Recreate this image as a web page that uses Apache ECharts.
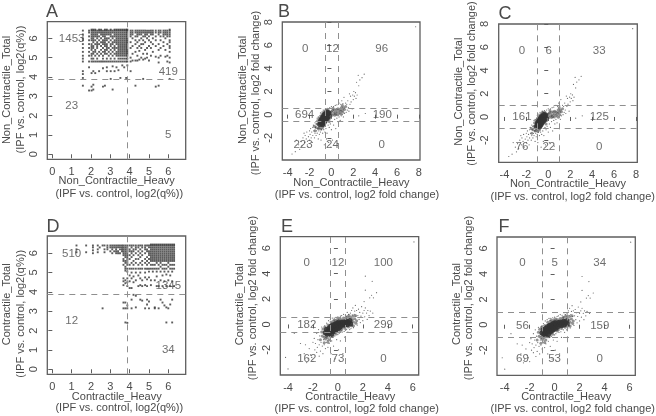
<!DOCTYPE html>
<html><head><meta charset="utf-8">
<style>html,body{margin:0;padding:0;background:#fff}#c{width:656px;height:416px}</style>
<script src="https://cdn.jsdelivr.net/npm/echarts@6/dist/echarts.min.js"></script></head>
<body><div id="c"></div>
<script>
// ---------- data ----------
const ticks_q = [0,1,2,3,4,5,6];
const ticks_B = [-4,-2,0,2,4,6,8];
const ticks_By = [-2,0,2,4,6,8];
const ticks_E = [-4,-2,0,2,4,6];
const ticks_Ey = [-2,0,2,4,6];

// q% panels: [x, [y, y, ...]] columns of points
const A_columns = [
[1.58,[3.55,3.95,4.15,4.3,4.8,4.95,5.1,5.3,5.5,5.7,5.9,6,6.2,6.4]],
[1.9,[3.3,4.5,4.8,5.1,5.3,5.5,5.7,5.9,6.1,6.3,6.4]],
[2.03,[3.3,3.5,4.2,4.8,4.95,5.1,5.2,5.4,5.5,5.6,5.7,5.9,6,6.1,6.2,6.3,6.4,6.45]],
[2.12,[3.35,3.6,4.3,4.8,4.95,5.2,5.3,5.5,5.6,5.8,5.9,6,6.1,6.2,6.3,6.4,6.45]],
[2.22,[4.2,4.8,5.1,5.3,5.4,5.7,5.9,6.1,6.2,6.3,6.4,6.45]],
[2.32,[4.8,4.95,5.2,5.5,5.6,5.7,5.8,6,6.1,6.2,6.3,6.4]],
[2.42,[4.3,4.8,5.1,5.3,5.7,5.9,6.1,6.3,6.4,6.45]],
[2.52,[4.8,5.2,5.4,5.6,5.8,6,6.2,6.3,6.4,6.45]],
[2.62,[3.5,4.45,4.8,4.95,5.1,5.3,5.5,5.7,5.8,5.9,6.1,6.2,6.3,6.4]],
[2.72,[3.55,4.8,5.2,5.3,5.4,5.6,5.7,5.8,5.9,6,6.1,6.2,6.3,6.4,6.45]],
[2.82,[4.3,4.5,4.8,4.95,5.2,5.4,5.5,5.6,5.7,5.9,6,6.2,6.3,6.4,6.45]],
[2.92,[4.8,5.1,5.3,5.5,5.8,6,6.2,6.3,6.4]],
[3.02,[3.9,4.3,4.8,4.95,5.2,5.4,5.6,5.7,5.9,6.1,6.2,6.3,6.4,6.45]],
[3.12,[3.35,4.55,4.8,5.1,5.3,5.5,5.7,5.8,6,6.1,6.3,6.4]],
[3.22,[4.3,4.8,4.95,5.2,5.4,5.5,5.6,5.8,5.9,6.1,6.2,6.3,6.4,6.45]],
[3.32,[4.5,4.8,5.1,5.2,5.3,5.5,5.7,5.8,5.9,6,6.1,6.2,6.3,6.4,6.45]],
[3.42,[4.35,4.8,4.95,5.1,5.2,5.3,5.4,5.5,5.6,5.7,5.8,5.9,6,6.1,6.2,6.3,6.4,6.45]],
[3.52,[3.95,4.8,4.95,5.1,5.2,5.3,5.4,5.5,5.6,5.7,5.8,5.9,6,6.1,6.2,6.3,6.4,6.45]],
[3.62,[4.6,4.8,4.95,5.1,5.2,5.3,5.4,5.5,5.6,5.7,5.8,5.9,6,6.1,6.2,6.3,6.4,6.45]],
[3.72,[4.5,4.8,4.95,5.1,5.2,5.3,5.4,5.5,5.6,5.7,5.8,5.9,6,6.1,6.2,6.3,6.4,6.45]],
[3.82,[3.95,4.8,4.95,5.1,5.2,5.3,5.4,5.5,5.6,5.7,5.8,5.9,6,6.1,6.2,6.3,6.4,6.45]],
[3.88,[4.6,4.8,4.95,5.1,5.2,5.3,5.4,5.5,5.6,5.7,5.8,5.9,6,6.1,6.2,6.3,6.4,6.45]],
[4.05,[4.3,4.8,5,5.5,5.8,6.1,6.2,6.3,6.4]],
[4.15,[4.85,5.2,5.6,6,6.2,6.3,6.4]],
[4.3,[3.55,4.85,5.3,5.7,5.9,6.1,6.3,6.4]],
[4.4,[4.85,5.1,5.5,5.8,6.1,6.2,6.3,6.4]],
[4.5,[4.9,5.35,5.6,5.9,6.2,6.3,6.4]],
[4.6,[5,5.5,5.7,6,6.2,6.3,6.4]],
[4.7,[3.9,4.9,5.2,5.7,5.9,6.1,6.3,6.4]],
[4.8,[4.95,5.4,5.8,6.1,6.2,6.3,6.4]],
[4.9,[5,5.2,5.5,6,6.2,6.3,6.4]],
[5.0,[4.85,5.6,5.9,6.1,6.3,6.4]],
[5.1,[5.1,5.5,5.8,6.2,6.3,6.4]],
[5.2,[5.3,5.7,6,6.2,6.3,6.4]],
[5.35,[3.5,5.05,5.6,5.9,6.1,6.3,6.4]],
[5.5,[3.55,4.75,5,5.4,5.7,6.2,6.3,6.4]],
[5.6,[5.1,5.5,5.9,6.1,6.3,6.4]],
[5.75,[5.6,5.8,6.1,6.2,6.3,6.4]],
[5.85,[5.05,5.4,6,6.2,6.3,6.4]],
[5.95,[4.8,5.1,5.7,6.1,6.2,6.3,6.4]],
[6.07,[3.9,4.75,5.0,5.3,5.5,5.6,5.8,5.9,6.1,6.2,6.3,6.4,6.45]]
];
const D_columns = [
[1.25,[6.05,6.2,6.4]],[1.75,[6.05,6.4]],[2.1,[6.0,6.15,6.3,6.4]],[2.35,[6.05,6.2,6.4]],
[2.45,[6.3]],[2.6,[3.15,6.4]],[2.7,[6.05,6.2,6.4]],[2.85,[6.2,6.3,6.4]],
[3.0,[6.1,6.3,6.4]],[3.1,[6.0,6.2,6.3,6.4]],[3.2,[6.1,6.3,6.4]],[3.3,[6,6.1,6.2,6.3,6.4]],
[3.4,[6,6.1,6.3,6.4]],[3.5,[6,6.2,6.3,6.4]],[3.6,[6.1,6.2,6.3,6.4]],
[3.68,[3.15,3.45,4.35,4.55,4.7,5.4,5.6,5.7,5.9,6,6.1,6.2,6.3,6.4]],
[3.78,[2.42,3.15,3.45,4.45,4.6,5.1,5.2,5.3,5.5,5.6,5.8,5.9,6,6.1,6.2,6.3,6.4]],
[3.88,[2.4,3.15,3.3,4.3,4.5,4.7,5.05,5.2,5.4,5.5,5.6,5.7,5.8,5.9,6,6.1,6.2,6.3,6.4]],
[4.0,[4.2,4.55,4.85,5.2,5.4,5.7,5.9,6.1,6.2,6.4]],
[4.1,[3.15,3.6,4.2,4.7,5.0,5.2,5.5,5.8,6,6.1,6.3,6.4]],
[4.2,[3.85,4.5,4.8,5.2,5.4,5.6,5.9,6.1,6.2,6.4]],
[4.32,[3.8,3.2,4.6,5.0,5.2,5.5,5.7,6,6.2,6.3,6.4]],
[4.45,[4.3,4.85,5.2,5.4,5.7,5.9,6.1,6.3,6.4]],
[4.55,[3.6,4.35,4.7,5.0,5.2,5.5,5.8,6,6.2,6.4]],
[4.65,[3.55,4.3,4.6,5.2,5.4,5.6,5.9,6.1,6.3,6.4]],
[4.8,[3.15,4.35,4.75,5,5.2,5.5,5.7,6,6.2,6.3,6.4]],
[4.9,[3.35,3.6,4.3,4.65,5.2,5.4,5.6,5.8,6.1,6.2,6.4]],
[5.0,[3.15,3.5,4.75,5.05,5.2,5.5,5.7,5.9,6,6.1,6.3,6.4]],
[5.1,[4.35,4.6,5.2,5.4,5.6,5.7,5.8,5.9,6,6.1,6.2,6.3,6.4,6.45]],
[5.2,[5.05,5.2,5.4,5.6,5.7,5.8,5.9,6,6.1,6.2,6.3,6.4,6.45]],
[5.3,[3.15,3.2,4.6,5.2,5.4,5.6,5.7,5.8,5.9,6,6.1,6.2,6.3,6.4,6.45]],
[5.4,[4.3,4.8,5.05,5.2,5.5,5.6,5.7,5.8,5.9,6,6.1,6.2,6.3,6.4,6.45]],
[5.5,[3.15,4.3,5.2,5.4,5.6,5.7,5.8,5.9,6,6.1,6.2,6.3,6.4,6.45]],
[5.6,[3.6,4.6,5.05,5.3,5.5,5.6,5.7,5.8,5.9,6,6.1,6.2,6.3,6.4,6.45]],
[5.7,[3.45,4.3,4.85,5.2,5.4,5.6,5.7,5.8,5.9,6,6.1,6.2,6.3,6.4,6.45]],
[5.8,[3.3,4.55,5.05,5.2,5.4,5.6,5.7,5.8,5.9,6,6.1,6.2,6.3,6.4,6.45]],
[5.9,[2.42,3.2,4.3,4.9,5.2,5.4,5.6,5.7,5.8,5.9,6,6.1,6.2,6.3,6.4,6.45]],
[6.0,[3.15,4.6,5.05,5.3,5.5,5.6,5.7,5.8,5.9,6,6.1,6.2,6.3,6.4,6.45]],
[6.1,[3.35,4.3,4.85,5.2,5.4,5.6,5.7,5.8,5.9,6,6.1,6.2,6.3,6.4,6.45]],
[6.2,[2.42,3.6,4.55,5.05,5.2,5.4,5.6,5.7,5.8,5.9,6,6.1,6.2,6.3,6.4,6.45]],
[6.3,[4.3,5.2,5.4,5.6,5.7,5.8,5.9,6,6.1,6.2,6.3,6.4,6.45]]
];

// fold-change panels: B and C plot the same proteins, E and F too
const NC_core = [[-1.05,-.85],[-1,-.65],[-.95,-.5],[-.9,-.75],[-.85,-.35],[-.85,-.6],[-.8,-.85],[-.75,-.2],[-.75,-.45],[-.7,-.7],[-.65,-.05],[-.65,-.3],[-.6,-.55],[-.55,.05],[-.55,-.2],[-.5,-.4],[-.45,-.1],[-.4,-.3],[-.35,.05],[-.3,-.15],[-.25,.15],[-.4,.2]];
const NC_mid = [[-1.4,-1.1],[-1.3,-.8],[-1.25,-.5],[-1.2,-1.2],[-1.1,-1.15],[-1.1,-.3],[-.95,-1.25],[-.95,-.1],[-.8,-1.1],[-.8,.1],[-.65,.25],[-.5,.4],[-.3,.4],[-.15,-.3],[-.1,.1],[0,.25],[.05,-.05],[.1,.35],[.2,.1],[.25,.4],[.35,.2],[.4,.05],[.45,.45],[.55,.25],[.6,.5],[.7,.15],[.75,.4],[.85,.3],[.9,.6],[1,.4],[1.05,.2],[1.1,.6],[1.2,.45],[1.3,.7],[1,.8],[-.2,-.6],[-1.5,-1.4],[-1.55,-1],[.15,.55],[.3,-.05],[.55,0],[.85,.05]];
const NC_sparse = [[-3.6,-3.4],[-3.3,-3.2],[-3.2,-2.2],[-3,-2.6],[-2.9,-3],[-2.8,-2.3],[-2.7,-2.7],[-2.6,-2],[-2.5,-1.6],[-2.45,-2.4],[-2.4,-1.8],[-2.3,-2.1],[-2.25,-1.5],[-2.2,-2.6],[-2.1,-1.9],[-2,-1.4],[-2,-2.2],[-1.95,-1.7],[-1.9,-1.2],[-1.85,-2],[-1.8,-1.5],[-1.75,-2.4],[-1.7,-1.1],[-1.7,-1.8],[-1.65,-.9],[-1.6,-1.4],[-1.55,-2],[-1.5,-1.6],[-1.5,-.7],[-1.45,-1.1],[-1.4,-1.8],[-1.4,-.8],[-1.35,-1.4],[-1.3,-.3],[-1.3,-1.6],[-1.25,-1.2],[-1.2,-2.1],[-1.2,-.2],[-1.15,-1.4],[-1.1,-1.7],[-1.05,-.1],[-1,-1.5],[-1,.15],[-.95,-2.2],[-.9,-1.3],[-.85,.25],[-.8,-1.6],[-.75,.4],[-.7,-1.3],[-.65,-2.6],[-.6,-1.5],[-.55,.5],[-.5,-1.2],[-.45,-2.1],[-.4,-1.6],[-.35,.55],[-.3,-.9],[-.25,-2.4],[-.2,-1.1],[-.15,.6],[-.1,-.8],[-.05,-2.8],[0,-1.3],[0,.7],[.1,-.6],[.1,-2.2],[.2,-.9],[.2,.7],[.3,-.4],[.35,.8],[.4,-1.2],[.5,-.3],[.5,.85],[.55,-2.5],[.6,-.6],[.7,1],[.7,-.2],[.8,-.5],[.85,.9],[.9,-.1],[.95,1.2],[1,0],[1.05,.95],[1.1,-.2],[1.15,1.5],[1.2,.1],[1.3,1],[1.35,.2],[1.4,.9],[1.45,.4],[1.5,1.2],[1.55,.6],[1.6,.3],[1.65,1.8],[1.7,.9],[1.75,1.6],[1.8,1.1],[1.9,.5],[1.95,1.7],[2,1.3],[2.05,2],[2.1,1.6],[2.2,1.9],[2.25,1.4],[2.3,2.8],[2.35,1.7],[2.45,3.4],[2.6,3],[2.8,3.2],[2.5,2.5],[3,3.5],[3.1,.1],[2.5,-.1],[7.7,7.6]];

const C_core = [[-1,-.65],[-.9,-.4],[-.85,-.75],[-.8,-.55],[-.7,-.3],[-.7,-.7],[-.6,-.5],[-.55,-.15],[-.5,-.75],[-.45,-.35],[-.4,-.05],[-.35,-.55],[-.3,-.25],[-.25,0],[-.2,-.45],[-.15,-.15],[-.1,.1],[-.05,-.35],[0,-.05],[.05,.15],[.1,-.25],[.15,.05],[.25,-.15],[.3,.15],[.4,0],[.45,.2],[.55,-.05],[.6,.15],[.7,.25],[.75,0],[.85,.15],[.95,.3],[1,.05]];
const C_mid = [[-1.3,-.6],[-1.25,-.9],[-1.2,-.35],[-1.1,-1],[-1.05,-.2],[-1,-1.15],[-.95,-.95],[-.85,-1.05],[-.8,-.05],[-.7,-1.2],[-.6,-.95],[-.55,.2],[-.45,-.95],[-.35,.3],[-.25,.35],[-.15,-.75],[-.05,.4],[.1,.45],[.2,-.5],[.25,.4],[.3,-.4],[.45,.5],[.55,-.3],[.65,.55],[.75,.6],[.85,-.2],[1,.55],[1.1,-.1],[1.15,.4],[1.25,.2],[1.35,.45],[1.25,-.1],[1.45,.1],[.9,.7],[-1.4,-1.2],[-1.1,-1.45],[-.8,-1.4],[1.2,.65],[1.4,.7],[1.5,.3]];
const C_sparse = [[-4.2,-2.6],[-4,-3.5],[-3.5,-.7],[-3,-1.5],[-2.7,-2.3],[-2.6,-1.6],[-2.5,-3],[-2.4,-2.7],[-2.3,-1.9],[-2.2,-2.4],[-2.1,-2.6],[-2,-1.4],[-2,-2.9],[-1.9,-1.1],[-1.85,-2],[-1.8,-1.5],[-1.7,-2.2],[-1.7,-.7],[-1.65,-1.8],[-1.6,-1.2],[-1.55,-.4],[-1.5,-2.5],[-1.5,-1.6],[-1.45,-.9],[-1.4,-2.1],[-1.35,-1.4],[-1.3,-.2],[-1.25,-1.7],[-1.2,-2.3],[-1.15,-1.2],[-1.1,-1.6],[-1.05,-.1],[-1,-1.9],[-.95,-1.4],[-.9,.1],[-.85,-1.25],[-.8,-1.8],[-.75,.3],[-.7,-1.5],[-.65,-.95],[-.6,.4],[-.55,-2.3],[-.5,-1.3],[-.45,.5],[-.4,-1],[-.35,-1.7],[-.3,.5],[-.25,-.9],[-.2,-2.7],[-.15,.55],[-.1,-1.2],[0,-.8],[0,.6],[.05,-2],[.1,-.7],[.2,.65],[.2,-1.3],[.3,.7],[.35,-.6],[.4,-2.3],[.45,.8],[.5,-.55],[.55,-1],[.6,.75],[.7,-.4],[.75,.95],[.8,-.6],[.85,.8],[.95,-.4],[1,.9],[1.05,-.3],[1.1,1.1],[1.15,.75],[1.2,1.3],[1.25,-.25],[1.3,.8],[1.35,1.05],[1.4,1.5],[1.45,.65],[1.5,1.1],[1.55,-.05],[1.6,.7],[1.65,1.2],[1.7,.4],[1.75,.95],[1.8,.15],[1.85,.65],[1.9,1.4],[2,.9],[2,.3],[2.1,1.1],[2.15,.6],[2.2,1.3],[2.3,.9],[2.35,.4],[2.4,1.1],[2.5,.7],[2.55,2.1],[2.2,2.7],[2.1,1.8],[2.6,1.05],[2.8,.9],[2.85,2.1],[2.7,2.3],[3.1,2.5],[2.75,3.4],[2.2,3.8],[6.1,6.5]];

// one set of small named arrays per panel
const A_labels=['1453','419','23','5'],   A_labelPos=[[1,5.97],[6,4.27],[1,2.5],[6,1]];
const D_labels=['510','1345','12','34'],  D_labelPos=[[1,5.98],[6,4.3],[1,2.5],[6,1]];
const B_labels=['0','12','96','694','190','223','24','0'];
const B_labelPos=[[-2.4,5.65],[.1,5.65],[4.6,5.65],[-2.45,0],[4.65,0],[-2.6,-2.6],[.1,-2.6],[4.6,-2.6]];
const C_labels=['0','6','33','161','125','76','22','0'];
const C_labelPos=[[-2.4,5.67],[.05,5.67],[4.65,5.67],[-2.4,0],[4.65,0],[-2.4,-2.6],[.05,-2.6],[4.65,-2.6]];
const E_labels=['0','12','100','182','299','162','73','0'];
const E_labelPos=[[-2.5,4.86],[0,4.86],[3.65,4.86],[-2.5,-.05],[3.65,-.05],[-2.5,-2.7],[0,-2.7],[3.65,-2.7]];
const F_labels=['0','5','34','56','159','69','53','0'];
const F_labelPos=[[-2.58,4.86],[0,4.86],[3.62,4.86],[-2.58,-.05],[3.62,-.05],[-2.58,-2.7],[0,-2.7],[3.62,-2.7]];

// ---------- layout ----------
const ncx='Non_Contractile_Heavy', ncy='Non_Contractile_Total', cx='Contractile_Heavy', cy='Contractile_Total';
const q2x='(IPF vs. control, log2(q%))', q2y='(IPF vs. control, log2(q%))', f2='(IPF vs. control, log2 fold change)';
function flatten(cols){const out=[];cols.forEach(c=>c[1].forEach(y=>out.push([c[0],y])));return out;}
const panels=[
 {l:'A',lx:45,ly:12,box:[47.3,21.7,138.4,137.6],xr:[-.26,6.9],yr:[-.26,6.86],xt:ticks_q,yt:ticks_q,tx:3.9,ty:3.9,
  labels:A_labels,pos:A_labelPos,sparse:flatten(A_columns),ss:1.9,
  x1:[ncx,116.7,181.3],x2:[q2x,119.3,194.3],y1:[ncy,7.3,90],y2:[q2y,20.7,89.5]},
 {l:'B',lx:277,ly:12,box:[282.3,22,137.7,138],xr:[-4.49,8.1],yr:[-3.92,8.01],xt:ticks_B,yt:ticks_By,tx:.585,ty:.585,
  labels:B_labels,pos:B_labelPos,core:NC_core,mid:NC_mid,sparse:NC_sparse,ss:1.2,
  x1:[ncx,351.3,182.7],x2:[f2,357,195.3],y1:[ncy,242.7,90],y2:[f2,256,93]},
 {l:'C',lx:498,ly:14,box:[498.7,24,138.6,138.3],xr:[-4.52,8.12],yr:[-3.9,8],xt:ticks_B,yt:ticks_By,tx:1,ty:1,
  labels:C_labels,pos:C_labelPos,core:NC_core,mid:NC_mid,sparse:NC_sparse,ss:1.2,
  x1:[ncx,568,184.3],x2:[f2,572.7,196.7],y1:[ncy,459.3,91.7],y2:[f2,472,83.5]},
 {l:'D',lx:46,ly:227,box:[47.3,236,138.4,138.3],xr:[-.26,6.9],yr:[-.26,6.89],xt:ticks_q,yt:ticks_q,tx:3.9,ty:3.9,
  labels:D_labels,pos:D_labelPos,sparse:flatten(D_columns),ss:1.9,
  x1:[cx,116.8,396.7],x2:[q2x,119.3,408.3],y1:[cy,7.3,304.3],y2:[q2y,20.7,313.8]},
 {l:'E',lx:280,ly:227,box:[280.3,236.7,138.4,138.3],xr:[-4.62,6.48],yr:[-3.98,6.91],xt:ticks_E,yt:ticks_Ey,tx:.585,ty:.585,
  labels:E_labels,pos:E_labelPos,core:C_core,mid:C_mid,sparse:C_sparse,ss:1.2,
  x1:[cx,350.3,397],x2:[f2,356.7,408.7],y1:[cy,240,304.3],y2:[f2,253.3,298]},
 {l:'F',lx:497,ly:227,box:[497,237,138.3,138.3],xr:[-4.62,6.47],yr:[-3.98,6.91],xt:ticks_E,yt:ticks_Ey,tx:1,ty:1,
  labels:F_labels,pos:F_labelPos,core:C_core,mid:C_mid,sparse:C_sparse,ss:1.2,
  x1:[cx,566.3,397],x2:[f2,572.7,408.7],y1:[cy,456.7,304],y2:[f2,469.3,298]}
];
const FONT='"Liberation Sans",Arial,sans-serif', TXT='#4a4a4a', AX='#5f5f5f', DASH='#8f8f8f';
const grid=[],xAxis=[],yAxis=[],series=[],graphic=[];
function txt(t,x,y,rot,size){graphic.push({type:'text',x:x,y:y,rotation:rot?Math.PI/2:0,silent:true,
  style:{text:t,fill:TXT,font:(size||11)+'px '+FONT,align:'center',verticalAlign:'middle'}});}
panels.forEach((p,i)=>{
  grid.push({left:p.box[0],top:p.box[1],width:p.box[2],height:p.box[3],show:true,borderColor:AX,borderWidth:1.3,backgroundColor:'transparent',containLabel:false});
  const ax=(r,t,isY)=>({type:'value',gridIndex:i,min:r[0],max:r[1],scale:true,splitLine:{show:false},axisLine:{show:false},
    axisTick:{show:true,length:4,lineStyle:{color:AX,width:1},customValues:t},
    axisLabel:{show:true,customValues:t,color:TXT,fontFamily:FONT,fontSize:11,margin:isY?8:7,rotate:isY?90:0,showMinLabel:true,showMaxLabel:true}});
  xAxis.push(ax(p.xr,p.xt,false));yAxis.push(ax(p.yr,p.yt,true));
  const base={type:'scatter',xAxisIndex:i,yAxisIndex:i,silent:true,animation:false,clip:true};
  const rect=p.ss>=1.9;
  series.push(Object.assign({},base,{data:p.sparse,symbol:rect?'rect':'circle',symbolSize:p.ss,itemStyle:{color:rect?'#333':'#444'},
    markLine:{silent:true,animation:false,symbol:'none',label:{show:false},lineStyle:{type:[6,5],color:DASH,width:1},
      data:[{xAxis:p.tx},{yAxis:p.ty}].concat(p.tx<3?[{xAxis:-p.tx},{yAxis:-p.ty}]:[])}}));
  if(p.mid)series.push(Object.assign({},base,{data:p.mid,symbolSize:3,itemStyle:{color:'#3a3a3a',opacity:.55}}));
  if(p.core)series.push(Object.assign({},base,{data:p.core,symbolSize:5.5,itemStyle:{color:'#333',opacity:.9}}));
  series.push(Object.assign({},base,{symbolSize:0,itemStyle:{color:'transparent'},
    data:p.pos.map((v,k)=>({value:v,name:p.labels[k]})),
    label:{show:true,position:'inside',formatter:o=>o.name,color:TXT,fontFamily:FONT,fontSize:11.5}}));
  txt(p.l,p.lx+7,p.ly,false,18);
  txt(p.x1[0],p.x1[1],p.x1[2]);txt(p.x2[0],p.x2[1],p.x2[2]);
  txt(p.y1[0],p.y1[1],p.y1[2],true);txt(p.y2[0],p.y2[1],p.y2[2],true);
});
const chart=echarts.init(document.getElementById('c'),null,{renderer:'canvas'});
chart.setOption({animation:false,backgroundColor:'#fff',grid,xAxis,yAxis,series,graphic:{elements:graphic}});
</script></body></html>
